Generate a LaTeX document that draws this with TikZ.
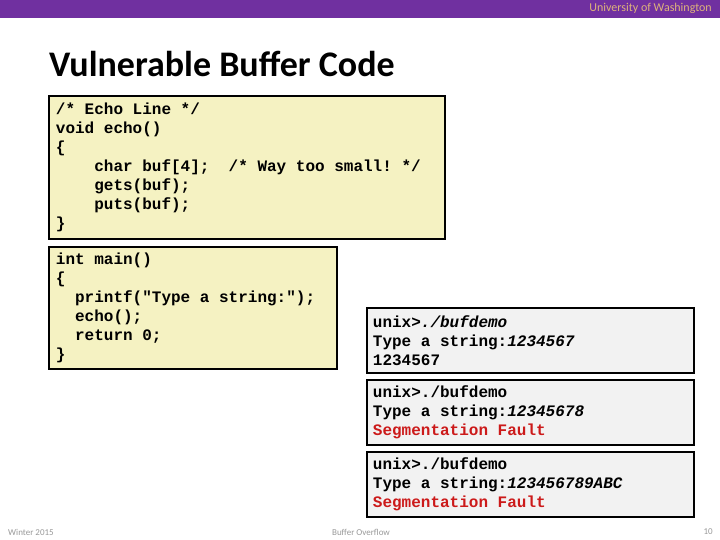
\documentclass[tikz,border=0pt]{standalone}
\usepackage{fontspec}
\setmainfont{Carlito}
\newfontfamily\codefont{Liberation Mono}
\definecolor{uwpurple}{HTML}{7030A0}
\definecolor{uwgold}{HTML}{DDB27C}
\definecolor{codeyellow}{HTML}{F5F2C2}
\definecolor{termgray}{HTML}{F2F2F2}
\definecolor{segred}{HTML}{CC1A1A}
\definecolor{footgray}{HTML}{999999}
\newcommand{\cs}{\hphantom{x}}
\tikzset{
  codebox/.style={draw=black, line width=1.8pt, fill=codeyellow, anchor=north west,
    inner xsep=6pt, inner ysep=5pt, align=left,
    font=\codefont\bfseries\fontsize{16}{19}\selectfont},
  termbox/.style={draw=black, line width=1.8pt, fill=termgray, anchor=north west,
    inner xsep=6pt, inner ysep=3pt, align=left, minimum width=327pt, minimum height=65pt,
    text width=315pt,
    font=\codefont\bfseries\fontsize{16}{19}\selectfont},
  foot/.style={text=footgray, font=\fontsize{9}{10}\selectfont},
}
\begin{document}
\begin{tikzpicture}[x=1pt,y=-1pt]
\useasboundingbox (0,0) rectangle (720,540);
\fill[white] (0,0) rectangle (720,540);
\fill[uwpurple] (0,0) rectangle (720,18);
\node[anchor=east, text=uwgold, font=\fontsize{12}{13}\selectfont, inner sep=0pt] (uw) at (712,8) {University of Washington};
\node[anchor=base west, font=\bfseries\fontsize{36}{40}\selectfont, inner sep=0pt] (title) at (49,77) {Vulnerable Buffer Code};
\node[codebox, minimum width=396pt, minimum height=143pt, text width=382pt] (echo) at (48,95) {%
/*\cs Echo\cs Line\cs */\\
void\cs echo()\\
\{\\
\cs\cs\cs\cs char\cs buf[4];\cs\cs/*\cs Way\cs too\cs small!\cs */\\
\cs\cs\cs\cs gets(buf);\\
\cs\cs\cs\cs puts(buf);\\
\}};
\node[codebox, minimum width=288pt, minimum height=122pt, text width=274pt] (main) at (48,246) {%
int\cs main()\\
\{\\
\cs\cs printf("Type\cs a\cs string:");\\
\cs\cs echo();\\
\cs\cs return\cs 0;\\
\}};
\node[termbox] (run1) at (366,307) {%
unix>\textit{./bufdemo}\\
Type\cs a\cs string:\textit{1234567}\\
1234567};
\node[termbox] (run2) at (366,379) {%
unix>./bufdemo\\
Type\cs a\cs string:\textit{12345678}\\
\textcolor{segred}{Segmentation\cs Fault}};
\node[termbox] (run3) at (366,451) {%
unix>./bufdemo\\
Type\cs a\cs string:\textit{123456789ABC}\\
\textcolor{segred}{Segmentation\cs Fault}};
\node[foot, anchor=west, inner sep=0pt] (season) at (8,532) {Winter 2015};
\node[foot, inner sep=0pt] (topic) at (361,532) {Buffer Overflow};
\node[foot, anchor=east, inner sep=0pt] (page) at (713,532) {10};
\end{tikzpicture}
\end{document}
